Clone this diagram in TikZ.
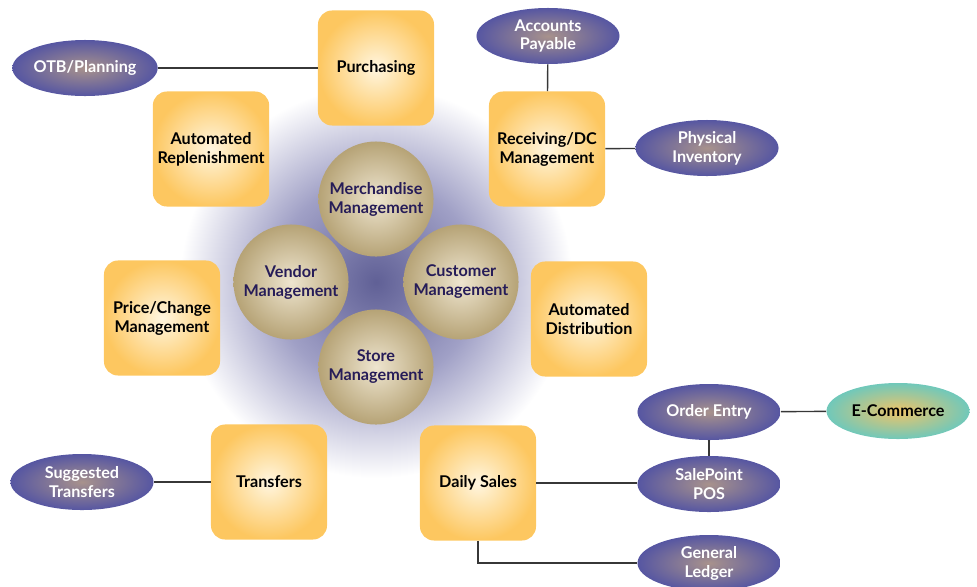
\documentclass[tikz,border=0pt]{standalone}
\usepackage{fontspec}
\setmainfont{Lato}
\usetikzlibrary{shapes.geometric}

\definecolor{boxin}{RGB}{255,246,224}
\definecolor{boxout}{RGB}{253,199,96}
\definecolor{hubin}{RGB}{238,229,207}
\definecolor{hubout}{RGB}{182,163,118}
\definecolor{hubtext}{RGB}{38,28,88}
\definecolor{ovalin}{RGB}{168,146,140}
\definecolor{ovalout}{RGB}{86,86,162}
\definecolor{ecomin}{RGB}{238,196,104}
\definecolor{ecomout}{RGB}{112,200,186}
\definecolor{haloa}{RGB}{96,96,150}
\definecolor{halob}{RGB}{160,160,198}
\definecolor{linkgray}{RGB}{55,55,55}
\pgfdeclareradialshading{halo}{\pgfpoint{0bp}{0bp}}{color(0bp)=(haloa); color(13bp)=(halob); color(25bp)=(white); color(50bp)=(white)}

\begin{document}
\begin{tikzpicture}[x=0.025cm, y=-0.025cm,
        font=\fontsize{11.5}{13.5}\selectfont\bfseries,
        modbox/.style={rectangle, rounded corners=10pt, shading=radial, inner color=boxin, outer color=boxout, minimum width=\boxw cm, minimum height=\boxh cm, align=center},
        hub/.style={circle, shading=radial, inner color=hubin, outer color=hubout, minimum size=\hubsize cm, inner sep=0pt, align=center, text=hubtext},
        oval/.style={ellipse, shading=radial, inner color=ovalin, outer color=ovalout, minimum width=\ovalw cm, minimum height=\ovalh cm, inner sep=0pt, align=center, text=white},
        link/.style={draw=linkgray, line width=1pt}]
        \def\boxw{2.9}
        \def\boxh{2.875}
        \def\hubsize{2.875}
        \def\ovalw{3.575}
        \def\ovalh{1.4}
        \useasboundingbox (0,0) rectangle (977,586);
        \clip (0,0) rectangle (977,586);

        % glow behind the four hubs
        \shade[shading=halo] (376,282) circle (4.9cm);

        \node(merch) [hub] at (376,199) {Merchandise\\Management};
        \node(vendor) [hub] at (291,282) {Vendor\\Management};
        \node(cust) [hub] at (461,282) {Customer\\Management};
        \node(store) [hub] at (376,367) {Store\\Management};

        \node(purch) [modbox] at (376,68) {Purchasing};
        \node(replen) [modbox] at (211,149) {Automated\\Replenishment};
        \node(recv) [modbox] at (547,149) {Receiving/DC\\Management};
        \node(price) [modbox] at (162,318) {Price/Change\\Management};
        \node(distr) [modbox] at (589,319) {Automated\\Distribution};
        \node(transf) [modbox] at (269,482) {Transfers};
        \node(sales) [modbox] at (478,483) {Daily Sales};

        \node(otb) [oval] at (85,68) {OTB/Planning};
        \node(payable) [oval] at (548,36) {Accounts\\Payable};
        \node(inv) [oval] at (707,148) {Physical\\Inventory};
        \node(order) [oval] at (709,412) {Order Entry};
        \node(ecom) [oval, inner color=ecomin, outer color=ecomout, text=black] at (898,411) {E-Commerce};
        \node(pos) [oval] at (709,484) {SalePoint\\POS};
        \node(ledger) [oval] at (709,563) {General\\Ledger};
        \node(sugg) [oval] at (82,482) {Suggested\\Transfers};

        \draw[link] (otb) -- (purch);
        \draw[link] (payable) -- (recv);
        \draw[link] (recv) -- (inv);
        \draw[link] (order) -- (ecom);
        \draw[link] (order) -- (pos);
        \draw[link] (sales) -- (sales -| pos.west);
        \draw[link] (sales.south) |- (ledger.west);
        \draw[link] (sugg) -- (transf);
    \end{tikzpicture}
\end{document}
